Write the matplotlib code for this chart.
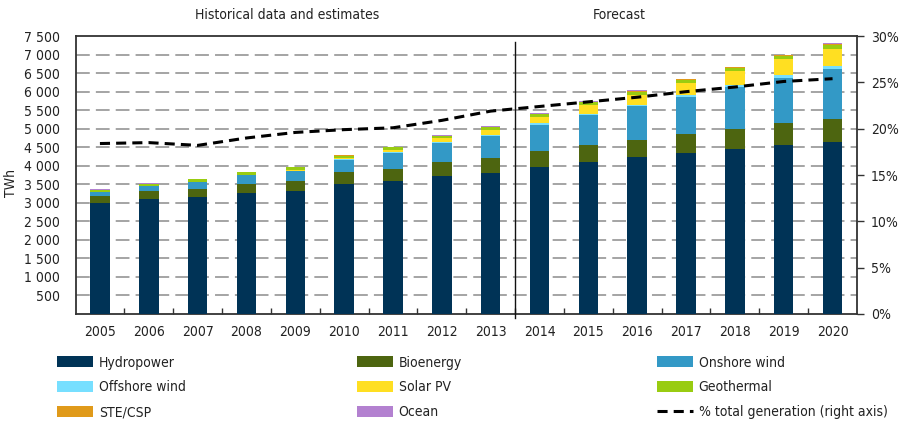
import numpy as np
import matplotlib
matplotlib.use("Agg")
import matplotlib.pyplot as plt
import matplotlib.font_manager as fm
from matplotlib.patches import Patch
from matplotlib.lines import Line2D
from matplotlib.transforms import blended_transform_factory

# --- Font: use a narrow sans if one is installed, else Roboto ---
narrow = [f for f in fm.fontManager.ttflist
          if ("Narrow" in f.fname or "Condensed" in f.fname)
          and f.style == "normal" and f.weight in (400, "normal", "regular")]
narrow.sort(key=lambda f: ("Liberation" not in f.fname, "DejaVu" not in f.fname))
if narrow:
    plt.rcParams["font.family"] = [narrow[0].name, "DejaVu Sans"]
    plt.rcParams["font.stretch"] = narrow[0].stretch
    fs = 10
else:
    plt.rcParams["font.family"] = ["Roboto", "DejaVu Sans"]
    fs = 9.5

# --- Data (TWh) ---
years = ["2005", "2006", "2007", "2008", "2009", "2010", "2011", "2012",
         "2013", "2014", "2015", "2016", "2017", "2018", "2019", "2020"]

hydropower = [3000, 3100, 3145, 3260, 3315, 3500, 3580, 3735,
              3810, 3975, 4110, 4227, 4340, 4455, 4562, 4652]
bioenergy = [195, 215, 225, 260, 278, 340, 333, 375,
             395, 435, 445, 478, 505, 545, 587, 611]
onshore_wind = [95, 126, 188, 218, 262, 322, 430, 505,
                590, 690, 810, 900, 1000, 1127, 1211, 1351]
offshore_wind = [3, 4, 6, 9, 12, 15, 20, 25,
                 40, 45, 36, 40, 55, 46, 79, 88]
solar_pv = [5, 6, 8, 12, 20, 32, 63, 98,
            135, 170, 232, 262, 328, 380, 438, 447]
geothermal = [58, 60, 62, 65, 67, 68, 69, 70,
              72, 75, 80, 90, 88, 96, 88, 114]
ste_csp = [2, 2, 1, 1, 1, 2, 4, 6,
           8, 10, 12, 15, 18, 18, 25, 35]
ocean = [5, 10, 20, 15, 15, 20, 15, 15,
         13, 20, 15, 25, 8, 8, 10, 18]

# % of total generation (right axis)
share_pct = [18.4, 18.5, 18.2, 19.0, 19.6, 19.9, 20.1, 20.9,
             21.9, 22.4, 22.9, 23.4, 24.0, 24.5, 25.1, 25.4]

series = [
    ("Hydropower", hydropower, "#003356"),
    ("Bioenergy", bioenergy, "#4d6510"),
    ("Onshore wind", onshore_wind, "#3399c6"),
    ("Offshore wind", offshore_wind, "#77dfff"),
    ("Solar PV", solar_pv, "#ffdf22"),
    ("Geothermal", geothermal, "#99cc11"),
    ("STE/CSP", ste_csp, "#e09a1a"),
    ("Ocean", ocean, "#b381d0"),
]

text_col = "#222222"

# --- Figure ---
fig = plt.figure(figsize=(9, 4.4), dpi=100)
ax = fig.add_axes([0.0839, 0.2864, 0.9522 - 0.0839, 0.918 - 0.2864])

x = np.arange(len(years))
bottom = np.zeros(len(years))
handles = {}
for name, vals, col in series:
    vals = np.array(vals, dtype=float)
    ax.bar(x, vals, width=0.4, bottom=bottom, color=col, edgecolor="none", zorder=3)
    bottom += vals
    handles[name] = Patch(facecolor=col, edgecolor="none", label=name)

ax.set_xlim(-0.5, len(years) - 0.5)
ax.set_ylim(0, 7500)

# --- Grid ---
for v in range(500, 7500, 500):
    ax.axhline(v, color="#8c8c8c", lw=1.1, ls=(0, (9, 4)), zorder=1)

# --- Left axis ---
yt = list(range(500, 8000, 500))
ax.set_yticks(yt)
ax.set_yticklabels([f"{v:,}".replace(",", " ") for v in yt], fontsize=fs, color=text_col)
ax.tick_params(axis="y", length=0, pad=11)
ax.set_ylabel("TWh", fontsize=fs, color=text_col)
ax.yaxis.set_label_coords(-0.0736, 0.47)

ax.set_xticks(x)
ax.set_xticklabels(years, fontsize=fs, color=text_col)
ax.set_xticks(np.arange(0.5, len(years) - 1, 1), minor=True)
ax.tick_params(axis="x", which="major", length=0, pad=8)
ax.tick_params(axis="x", which="minor", direction="in", length=4, width=1, color="#333333")

for sp in ax.spines.values():
    sp.set_color("#333333")
    sp.set_linewidth(1.3)

# --- Divider historical / forecast (between 2013 and 2014) ---
ax.axvline(8.5, ymin=-0.014, ymax=0.978, color="#111111", lw=1, clip_on=False, zorder=4)

tr = blended_transform_factory(ax.transData, ax.transAxes)
ax.text(3.83, 1.076, "Historical data and estimates", transform=tr, ha="center",
        va="center", fontsize=fs, color=text_col)
ax.text(10.64, 1.076, "Forecast", transform=tr, ha="center", va="center",
        fontsize=fs, color=text_col)

# --- Right axis (%) ---
ax2 = ax.twinx()
ax2.set_ylim(0, 30)
ax2.plot(x, share_pct, color="black", lw=2.2, ls=(0, (3.3, 2)), zorder=5)
ax2.set_yticks(range(0, 35, 5))
ax2.set_yticklabels([f"{v}%" for v in range(0, 35, 5)], fontsize=fs, color=text_col)
ax2.tick_params(axis="y", length=5, width=1, color="#333333", pad=5)
for sp in ax2.spines.values():
    sp.set_visible(False)

# --- Legend (three columns) ---
line_handle = Line2D([0], [0], color="black", lw=2.2, ls=(0, (3.3, 2)),
                     label="% total generation (right axis)")
cols = [
    ["Hydropower", "Offshore wind", "STE/CSP"],
    ["Bioenergy", "Solar PV", "Ocean"],
    ["Onshore wind", "Geothermal", None],
]
for i, names in enumerate(cols):
    hs = [handles[n] if n else line_handle for n in names]
    fig.legend(handles=hs, loc="upper left", bbox_to_anchor=((57 + 300 * i) / 900, 0.192),
               frameon=False, fontsize=fs, handlelength=2.6, handleheight=0.9,
               handletextpad=0.4, labelspacing=0.78, borderpad=0, borderaxespad=0,
               labelcolor=text_col)

plt.savefig("out.png", dpi=100)
plt.close()
